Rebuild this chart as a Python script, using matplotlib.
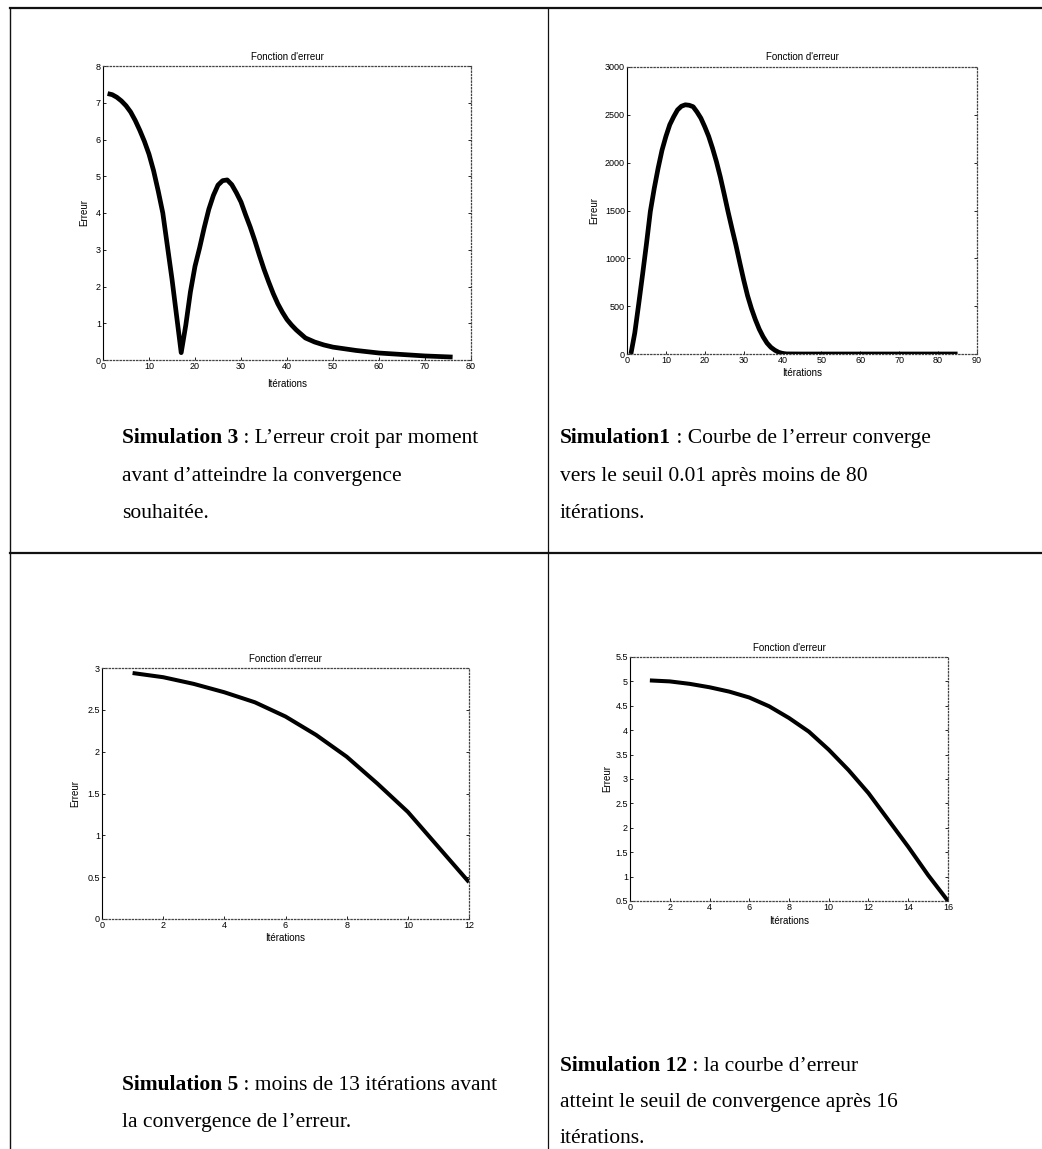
import matplotlib.pyplot as plt
from matplotlib.lines import Line2D

W, H = 1042, 1149

# Simulation 3 : l'erreur remonte avant de converger
sim3_iter = [1, 2, 3, 4, 5, 6, 7, 8, 9, 10, 11, 12, 13, 14, 15, 16, 17, 18, 19, 20,
             21, 22, 23, 24, 25, 26, 27, 28, 29, 30, 31, 32, 33, 34, 35, 36, 37, 38,
             39, 40, 41, 42, 44, 46, 48, 50, 55, 60, 65, 70, 76]
sim3_err = [7.25, 7.22, 7.15, 7.05, 6.92, 6.75, 6.52, 6.25, 5.95, 5.6, 5.15, 4.6, 4.0,
            3.1, 2.2, 1.2, 0.2, 0.95, 1.85, 2.55, 3.05, 3.6, 4.1, 4.48, 4.76, 4.88,
            4.9, 4.77, 4.55, 4.3, 3.95, 3.62, 3.25, 2.85, 2.47, 2.13, 1.81, 1.53, 1.3,
            1.1, 0.95, 0.82, 0.6, 0.49, 0.41, 0.35, 0.26, 0.19, 0.15, 0.11, 0.08]

# Simulation 1
sim1_iter = [1, 2, 3, 4, 5, 6, 7, 8, 9, 10, 11, 12, 13, 14, 15, 16, 17, 18, 19, 20,
             21, 22, 23, 24, 25, 26, 27, 28, 29, 30, 31, 32, 33, 34, 35, 36, 37, 38,
             39, 40, 41, 45, 55, 65, 75, 85]
sim1_err = [0, 220, 520, 830, 1150, 1490, 1730, 1942, 2130, 2274, 2397, 2480, 2552,
            2590, 2605, 2600, 2585, 2530, 2465, 2375, 2275, 2150, 2010, 1850, 1670,
            1485, 1310, 1140, 955, 775, 610, 475, 360, 260, 180, 115, 70, 40, 18, 6,
            1, 0, 0, 0, 0, 0]

# Simulation 5
sim5_iter = [1, 2, 3, 4, 5, 6, 7, 8, 9, 10, 11, 12]
sim5_err = [2.94, 2.89, 2.81, 2.71, 2.59, 2.42, 2.20, 1.94, 1.62, 1.28, 0.86, 0.44]

# Simulation 12
sim12_iter = [1, 2, 3, 4, 5, 6, 7, 8, 9, 10, 11, 12, 13, 14, 15, 16]
sim12_err = [5.02, 5.0, 4.95, 4.88, 4.79, 4.67, 4.49, 4.25, 3.97, 3.60, 3.18, 2.71,
             2.16, 1.61, 1.03, 0.5]

captions = {
    "sim3": [("Simulation 3", " : L\u2019erreur croit par moment"),
             ("", "avant d\u2019atteindre la convergence"),
             ("", "souhait\u00e9e.")],
    "sim1": [("Simulation1", " : Courbe de l\u2019erreur converge"),
             ("", "vers le seuil 0.01 apr\u00e8s moins de 80"),
             ("", "it\u00e9rations.")],
    "sim5": [("Simulation 5", " : moins de 13 it\u00e9rations avant"),
             ("", "la convergence de l\u2019erreur.")],
    "sim12": [("Simulation 12", " : la courbe d\u2019erreur"),
              ("", "atteint le seuil de convergence apr\u00e8s 16"),
              ("", "it\u00e9rations.")],
}

SANS = "Liberation Sans"
SERIF = "Liberation Serif"
TICK = 6.5
LABEL = 7
CAPTION = 15.5

fig = plt.figure(figsize=(W / 100, H / 100), dpi=100)
fig.patch.set_facecolor("white")


def px_axes(x0, y0, x1, y1):
    # pixel box (top-left origin) -> figure axes
    return fig.add_axes([x0 / W, 1 - y1 / H, (x1 - x0) / W, (y1 - y0) / H])


def plot_panel(ax, x, y, xlim, ylim, xticks, yticks, box, title_y, xlab_y, ylab_x, lw=3.0):
    x0, y0, x1, y1 = box
    ax.plot(x, y, color="black", lw=lw, solid_joinstyle="round", solid_capstyle="butt")
    ax.set_xlim(xlim)
    ax.set_ylim(ylim)
    ax.set_xticks(xticks)
    ax.set_yticks(yticks)
    ax.set_yticklabels([("%g" % v) for v in yticks])
    ax.tick_params(direction="in", length=2.5, width=0.6, labelsize=TICK, pad=1.5,
                   right=True, top=False)
    for lab in ax.get_xticklabels() + ax.get_yticklabels():
        lab.set_family(SANS)
    ax.spines["left"].set_linewidth(0.8)
    for s in ("top", "right", "bottom"):
        ax.spines[s].set_linestyle(":")
        ax.spines[s].set_linewidth(0.9)
        ax.spines[s].set_color("#444444")

    fig.text((x0 + x1) / 2 / W, 1 - title_y / H, "Fonction d'erreur",
             ha="center", va="center", fontsize=LABEL, family=SANS)
    fig.text((x0 + x1) / 2 / W, 1 - xlab_y / H, "It\u00e9rations",
             ha="center", va="center", fontsize=LABEL, family=SANS)
    fig.text(ylab_x / W, 1 - (y0 + y1) / 2 / H, "Erreur",
             ha="center", va="center", rotation=90, fontsize=LABEL, family=SANS)


box1 = (103, 66, 471, 360)
plot_panel(px_axes(*box1), sim3_iter, sim3_err, (0, 80), (0, 8), range(0, 81, 10),
           list(range(0, 9)), box1, 57, 384, 84, lw=3.4)

box2 = (627, 67, 977, 354)
plot_panel(px_axes(*box2), sim1_iter, sim1_err, (0, 90), (0, 3000), range(0, 91, 10),
           list(range(0, 3001, 500)), box2, 57, 373, 594, lw=3.4)

box3 = (102, 668, 469, 919)
plot_panel(px_axes(*box3), sim5_iter, sim5_err, (0, 12), (0, 3), range(0, 13, 2),
           [0, 0.5, 1, 1.5, 2, 2.5, 3], box3, 659, 938, 75, lw=2.9)

box4 = (630, 657, 948, 901)
plot_panel(px_axes(*box4), sim12_iter, sim12_err, (0, 16), (0.5, 5.5), range(0, 17, 2),
           [0.5, 1, 1.5, 2, 2.5, 3, 3.5, 4, 4.5, 5, 5.5], box4, 648, 921, 607, lw=2.9)


# table rules
def rule(x0, y0, x1, y1, lw):
    fig.add_artist(Line2D([x0 / W, x1 / W], [1 - y0 / H, 1 - y1 / H],
                          transform=fig.transFigure, color="#111111", lw=lw))


rule(10, 8, W, 8, 1.6)
rule(10, 553, W, 553, 1.6)
rule(10, 8, 10, H, 1.0)
rule(548, 8, 548, H, 0.9)

# captions: bold lead followed by the regular text
fig.canvas.draw()
renderer = fig.canvas.get_renderer()


def caption(lines, x, ys):
    for (bold, rest), y in zip(lines, ys):
        xpos = x
        if bold:
            t = fig.text(xpos / W, 1 - y / H, bold, fontsize=CAPTION, family=SERIF,
                         weight="bold", va="baseline", ha="left")
            xpos += t.get_window_extent(renderer).width
        fig.text(xpos / W, 1 - y / H, rest, fontsize=CAPTION, family=SERIF,
                 va="baseline", ha="left")


caption(captions["sim3"], 122, [443, 481, 518])
caption(captions["sim1"], 560, [443, 481, 518])
caption(captions["sim5"], 122, [1090, 1127])
caption(captions["sim12"], 560, [1071, 1107, 1143])

fig.savefig("out.png", dpi=100)
